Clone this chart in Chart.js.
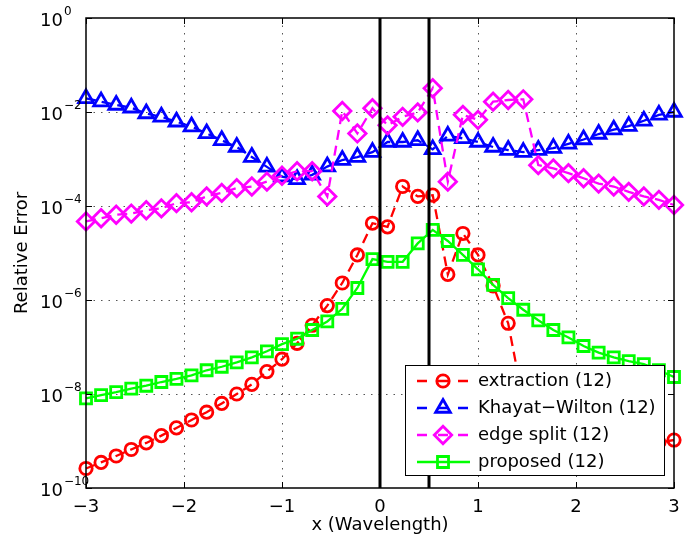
<!DOCTYPE html>
<html>
<head>
<meta charset="utf-8">
<script src="https://cdn.jsdelivr.net/npm/chart.js@4.4.0/dist/chart.umd.min.js"></script>
<style>
  html, body { margin: 0; padding: 0; background: #fff; }
  #wrap { width: 686px; height: 542px; }
</style>
</head>
<body>
<div id="wrap"><canvas id="errChart" width="686" height="542"></canvas></div>
<script>
// sample positions (wavelengths)
const xPos = [-3, -2.846, -2.692, -2.538, -2.385, -2.231, -2.077, -1.923, -1.769, -1.615,
  -1.462, -1.308, -1.154, -1.0, -0.846, -0.692, -0.538, -0.385, -0.231, -0.077,
  0.077, 0.231, 0.385, 0.538, 0.692, 0.846, 1.0, 1.154, 1.308, 1.462,
  1.615, 1.769, 1.923, 2.077, 2.231, 2.385, 2.538, 2.692, 2.846, 3.0];

const extraction = [2.6e-10, 3.5e-10, 4.8e-10, 6.6e-10, 9.1e-10, 1.3e-9, 1.9e-9, 2.8e-9, 4.1e-9, 6.3e-9,
  1.0e-8, 1.6e-8, 3.0e-8, 5.5e-8, 1.2e-7, 2.9e-7, 7.6e-7, 2.3e-6, 9.1e-6, 4.3e-5,
  3.6e-5, 2.6e-4, 1.6e-4, 1.7e-4, 3.5e-6, 2.6e-5, 9.1e-6, 2.0e-6, 3.2e-7, 6.8e-9,
  2.5e-9, 1.6e-9, 1.1e-9, 8.9e-10, 7.9e-10, 7.9e-10, 8.3e-10, 8.9e-10, 9.3e-10, 1.05e-9];

const khayatWilton = [1.95e-2, 1.66e-2, 1.41e-2, 1.23e-2, 9.3e-3, 7.9e-3, 6.2e-3, 4.9e-3, 3.5e-3, 2.5e-3,
  1.8e-3, 1.1e-3, 6.8e-4, 4.2e-4, 3.7e-4, 4.6e-4, 6.9e-4, 9.5e-4, 1.1e-3, 1.4e-3,
  2.3e-3, 2.3e-3, 2.5e-3, 1.6e-3, 3.1e-3, 2.75e-3, 2.3e-3, 1.8e-3, 1.55e-3, 1.4e-3,
  1.55e-3, 1.7e-3, 2.1e-3, 2.6e-3, 3.4e-3, 4.2e-3, 5.0e-3, 6.5e-3, 8.7e-3, 1.0e-2];

const edgeSplit = [4.7e-5, 5.5e-5, 6.5e-5, 6.9e-5, 8.1e-5, 8.9e-5, 1.15e-4, 1.2e-4, 1.6e-4, 1.9e-4,
  2.4e-4, 2.6e-4, 3.3e-4, 4.4e-4, 5.5e-4, 5.5e-4, 1.6e-4, 1.05e-2, 3.5e-3, 1.2e-2,
  5.2e-3, 7.9e-3, 9.8e-3, 3.2e-2, 3.3e-4, 8.7e-3, 6.8e-3, 1.66e-2, 1.8e-2, 1.86e-2,
  7.4e-4, 6.3e-4, 5.0e-4, 3.9e-4, 3.0e-4, 2.6e-4, 2.0e-4, 1.6e-4, 1.35e-4, 1.05e-4];

const proposed = [8.1e-9, 9.5e-9, 1.1e-8, 1.3e-8, 1.5e-8, 1.8e-8, 2.1e-8, 2.5e-8, 3.2e-8, 3.8e-8,
  4.7e-8, 6.0e-8, 8.1e-8, 1.15e-7, 1.5e-7, 2.3e-7, 3.5e-7, 6.5e-7, 1.8e-6, 7.4e-6,
  6.5e-6, 6.5e-6, 1.6e-5, 3.1e-5, 1.8e-5, 9.1e-6, 4.5e-6, 2.1e-6, 1.1e-6, 6.2e-7,
  3.7e-7, 2.3e-7, 1.6e-7, 1.05e-7, 7.6e-8, 6.0e-8, 5.0e-8, 4.3e-8, 3.2e-8, 2.3e-8];

const seriesNames = ['extraction (12)', 'Khayat\u2212Wilton (12)', 'edge split (12)', 'proposed (12)'];
const xTicks = [-3, -2, -1, 0, 1, 2, 3];
const yTickExponents = [0, -2, -4, -6, -8, -10];
const edgeMarks = [0, 0.5];   // the two black vertical lines

const FONT = "'DejaVu Sans', 'Liberation Sans', Arial, sans-serif";

function lineSet(label, values, color, style, radius, dashed) {
  return {
    label: label,
    data: xPos.map((x, i) => ({ x: x, y: values[i] })),
    borderColor: color,
    borderWidth: 2.3,
    borderDash: dashed ? [10, 6] : [],
    pointStyle: style,
    pointRadius: radius,
    pointBorderWidth: 2.8,
    pointBorderColor: color,
    pointBackgroundColor: 'rgba(0,0,0,0)',
    tension: 0,
    fill: false,
    clip: false,
    inLegend: true
  };
}

const extractionSet = lineSet(seriesNames[0], extraction, '#ff0000', 'circle', 6.2, true);
const kwSet = lineSet(seriesNames[1], khayatWilton, '#0000ff', 'triangle', 8.5, true);
const splitSet = lineSet(seriesNames[2], edgeSplit, '#ff00ff', 'rectRot', 8.7, true);
const proposedSet = lineSet(seriesNames[3], proposed, '#00ff00', 'rect', 7.8, false);

const edgeSets = edgeMarks.map(v => ({
  data: [{ x: v, y: 1e-10 }, { x: v, y: 1 }],
  borderColor: '#000',
  borderWidth: 3,
  pointRadius: 0,
  inLegend: false
}));

function drawMarker(ctx, style, r, cx, cy) {
  ctx.beginPath();
  if (style === 'circle') {
    ctx.arc(cx, cy, r, 0, Math.PI * 2);
  } else if (style === 'triangle') {
    ctx.moveTo(cx, cy - r);
    ctx.lineTo(cx + r * 0.866, cy + r / 2);
    ctx.lineTo(cx - r * 0.866, cy + r / 2);
    ctx.closePath();
  } else if (style === 'rectRot') {
    ctx.moveTo(cx - r, cy); ctx.lineTo(cx, cy - r);
    ctx.lineTo(cx + r, cy); ctx.lineTo(cx, cy + r);
    ctx.closePath();
  } else {
    const h = r * Math.SQRT1_2;
    ctx.rect(cx - h, cy - h, 2 * h, 2 * h);
  }
  ctx.stroke();
}

const matlabAxes = {
  id: 'matlabAxes',
  beforeDatasetsDraw(chart) {
    const { ctx, chartArea: a, scales: { x, y } } = chart;
    ctx.save();
    ctx.strokeStyle = '#555';
    ctx.lineWidth = 1;
    ctx.setLineDash([1.5, 6]);
    x.ticks.forEach(t => {
      const px = Math.round(x.getPixelForValue(t.value)) + 0.5;
      if (px < a.left + 2 || px > a.right - 2) return;
      ctx.beginPath(); ctx.moveTo(px, a.top); ctx.lineTo(px, a.bottom); ctx.stroke();
    });
    y.ticks.forEach(t => {
      const py = Math.round(y.getPixelForValue(t.value)) + 0.5;
      if (py < a.top + 2 || py > a.bottom - 2) return;
      ctx.beginPath(); ctx.moveTo(a.left, py); ctx.lineTo(a.right, py); ctx.stroke();
    });
    ctx.restore();
  },
  afterDraw(chart) {
    const { ctx, chartArea: a, scales: { x, y } } = chart;
    ctx.save();
    // frame + inward ticks
    ctx.strokeStyle = '#000';
    ctx.lineWidth = 1.5;
    ctx.setLineDash([]);
    ctx.strokeRect(a.left, a.top, a.right - a.left, a.bottom - a.top);
    ctx.lineWidth = 1;
    x.ticks.forEach(t => {
      const px = Math.round(x.getPixelForValue(t.value)) + 0.5;
      ctx.beginPath();
      ctx.moveTo(px, a.bottom); ctx.lineTo(px, a.bottom - 6);
      ctx.moveTo(px, a.top); ctx.lineTo(px, a.top + 6);
      ctx.stroke();
    });
    y.ticks.forEach(t => {
      const py = Math.round(y.getPixelForValue(t.value)) + 0.5;
      ctx.beginPath();
      ctx.moveTo(a.left, py); ctx.lineTo(a.left + 6, py);
      ctx.moveTo(a.right, py); ctx.lineTo(a.right - 6, py);
      ctx.stroke();
    });

    // tick labels
    ctx.fillStyle = '#000';
    ctx.font = '18px ' + FONT;
    ctx.textAlign = 'center';
    ctx.textBaseline = 'middle';
    x.ticks.forEach(t => {
      const txt = t.value < 0 ? '\u2212' + Math.abs(t.value) : String(t.value);
      ctx.fillText(txt, x.getPixelForValue(t.value), a.bottom + 19);
    });
    ctx.textAlign = 'left';
    yTickExponents.forEach(e => {
      const py = y.getPixelForValue(Math.pow(10, e));
      ctx.font = '18px ' + FONT;
      ctx.fillText('10', 40, py + 3);
      const w = ctx.measureText('10').width;
      ctx.font = '12px ' + FONT;
      ctx.fillText(e < 0 ? '\u2212' + Math.abs(e) : String(e), 40 + w + 1, py - 6);
    });

    // axis titles
    ctx.font = '18px ' + FONT;
    ctx.textAlign = 'center';
    ctx.fillText('x (Wavelength)', (a.left + a.right) / 2, a.bottom + 37);
    ctx.save();
    ctx.translate(22, (a.top + a.bottom) / 2);
    ctx.rotate(-Math.PI / 2);
    ctx.fillText('Relative Error', 0, 0);
    ctx.restore();

    // legend box inside the axes, lower right
    const items = chart.data.datasets.filter(d => d.inLegend);
    items.sort((p, q) => seriesNames.indexOf(p.label) - seriesNames.indexOf(q.label));
    const bw = 259, bh = 110;
    const bx = a.right - 10 - bw, by = a.bottom - 13 - bh;
    ctx.fillStyle = '#fff';
    ctx.fillRect(bx, by, bw, bh);
    ctx.strokeStyle = '#000';
    ctx.lineWidth = 1;
    ctx.strokeRect(Math.round(bx) + 0.5, Math.round(by) + 0.5, bw, bh);
    items.forEach((d, i) => {
      const cy = by + 16 + 27 * i;
      const mx = bx + 38;
      ctx.strokeStyle = d.borderColor;
      ctx.lineWidth = 2.3;
      ctx.setLineDash([]);
      ctx.beginPath();
      if (d.borderDash.length) {
        ctx.moveTo(bx + 12, cy); ctx.lineTo(bx + 22, cy);
        ctx.moveTo(bx + 53, cy); ctx.lineTo(bx + 63, cy);
        ctx.moveTo(mx - 5, cy); ctx.lineTo(mx + 5, cy);
      } else {
        ctx.moveTo(bx + 12, cy); ctx.lineTo(bx + 65, cy);
      }
      ctx.stroke();
      ctx.lineWidth = 2.8;
      drawMarker(ctx, d.pointStyle, d.pointRadius, mx, cy);
      ctx.fillStyle = '#000';
      ctx.font = '18px ' + FONT;
      ctx.textAlign = 'left';
      ctx.textBaseline = 'middle';
      ctx.fillText(d.label, bx + 73, cy);
    });
    ctx.restore();
  }
};

new Chart(document.getElementById('errChart'), {
  type: 'line',
  data: { datasets: [...edgeSets, proposedSet, splitSet, kwSet, extractionSet] },
  options: {
    responsive: false,
    animation: false,
    layout: { padding: { left: 86, right: 12, top: 18, bottom: 54 } },
    scales: {
      x: {
        type: 'linear', min: -3, max: 3,
        afterBuildTicks: s => { s.ticks = xTicks.map(v => ({ value: v })); },
        ticks: { display: false },
        grid: { display: false, drawTicks: false },
        border: { display: false }
      },
      y: {
        type: 'logarithmic', min: 1e-10, max: 1,
        afterBuildTicks: s => { s.ticks = yTickExponents.map(e => ({ value: Math.pow(10, e) })); },
        ticks: { display: false },
        grid: { display: false, drawTicks: false },
        border: { display: false }
      }
    },
    plugins: { legend: { display: false }, tooltip: { enabled: false } }
  },
  plugins: [matlabAxes]
});
</script>
</body>
</html>
